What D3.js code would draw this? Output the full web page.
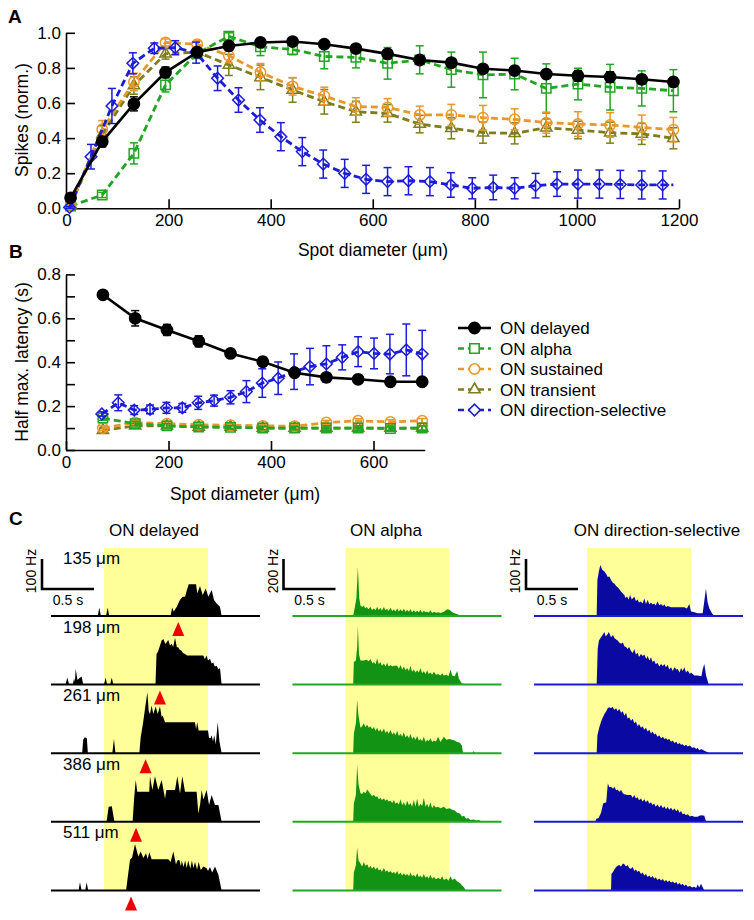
<!DOCTYPE html>
<html><head><meta charset="utf-8">
<script src="https://cdn.jsdelivr.net/npm/d3@7"></script>
<style>body{margin:0;background:#fff}svg{display:block}text{font-family:'Liberation Sans',Arial,Helvetica,sans-serif}</style>
</head><body>
<script>
// ---------- Panel A data ----------
const aXTicks = [0,200,400,600,800,1000,1200];
const aYTicks = [0,0.2,0.4,0.6,0.8,1.0];
const aX = [8,70,132,194,256,318,380,443,505,567,629,692,754,816,878,940,1002,1065,1127,1189];
const aDelayed = [0.06,0.38,0.595,0.775,0.89,0.925,0.945,0.95,0.935,0.91,0.88,0.845,0.83,0.795,0.785,0.765,0.755,0.748,0.735,0.72];
const aDelayedErr = [0.01,0.03,0.04,0.03,0.02,0.012,0.015,0.01,0.015,0.015,0.015,0.02,0.02,0.02,0.02,0.025,0.03,0.03,0.025,0.025];
const aAlpha = [0.013,0.076,0.313,0.703,0.883,0.98,0.92,0.905,0.865,0.86,0.826,0.846,0.79,0.76,0.765,0.683,0.708,0.69,0.683,0.67];
const aAlphaErr = [0.005,0.015,0.06,0.04,0.03,0.02,0.05,0.03,0.07,0.06,0.09,0.08,0.1,0.13,0.09,0.14,0.09,0.13,0.1,0.12];
const aSustained = [0.02,0.45,0.72,0.945,0.935,0.87,0.775,0.695,0.64,0.58,0.575,0.532,0.532,0.516,0.507,0.488,0.48,0.475,0.461,0.448];
const aSustainedErr = [0.005,0.05,0.05,0.02,0.02,0.04,0.05,0.05,0.05,0.05,0.05,0.05,0.06,0.07,0.06,0.06,0.07,0.07,0.07,0.07];
const aTransient = [0.02,0.42,0.7,0.88,0.89,0.817,0.746,0.674,0.607,0.55,0.541,0.48,0.456,0.431,0.427,0.459,0.446,0.431,0.424,0.399];
const aTransientErr = [0.005,0.05,0.05,0.03,0.03,0.06,0.07,0.07,0.07,0.06,0.05,0.05,0.06,0.06,0.06,0.05,0.05,0.06,0.06,0.06];
const aDSX = [6,48,89,130,172,213,254,296,337,379,420,462,503,545,587,629,670,712,753,795,836,878,919,961,1002,1044,1085,1127,1168];
const aDS = [0.005,0.294,0.583,0.826,0.912,0.915,0.887,0.741,0.617,0.503,0.408,0.323,0.252,0.199,0.165,0.152,0.157,0.152,0.133,0.114,0.119,0.114,0.129,0.138,0.138,0.138,0.136,0.133,0.133];
const aDSErr = [0.005,0.07,0.1,0.06,0.03,0.04,0.06,0.07,0.07,0.07,0.08,0.08,0.08,0.08,0.08,0.08,0.08,0.08,0.07,0.06,0.07,0.06,0.07,0.07,0.08,0.08,0.08,0.08,0.08];
const aDSLineEnd = [1189,0.133];

// ---------- Panel B data ----------
const bXTicks = [0,200,400,600];
const bYTicks = [0,0.1,0.2,0.3,0.4,0.5,0.6,0.7,0.8];
const bX = [72,135,197,259,321,384,446,508,570,633,695];
const bDelayed = [0.707,0.6,0.547,0.495,0.44,0.402,0.352,0.331,0.322,0.311,0.311];
const bDelayedErr = [0.012,0.035,0.025,0.025,0.018,0.02,0.015,0.012,0.01,0.01,0.01];
const bAlpha = [0.145,0.12,0.11,0.105,0.103,0.1,0.1,0.1,0.1,0.098,0.1];
const bSustained = [0.1,0.125,0.12,0.115,0.113,0.11,0.108,0.125,0.133,0.128,0.133];
const bTransient = [0.09,0.11,0.11,0.105,0.105,0.1,0.1,0.1,0.1,0.1,0.1];
const bSmallErr = [0.01,0.01,0.01,0.008,0.008,0.008,0.008,0.01,0.01,0.01,0.01];
const bDSX = [70,102,133,164,196,227,258,289,321,352,383,414,445,476,508,539,570,601,632,664,695];
const bDS = [0.164,0.215,0.182,0.185,0.192,0.192,0.215,0.225,0.24,0.266,0.305,0.327,0.357,0.38,0.392,0.422,0.448,0.44,0.437,0.456,0.437];
const bDSErr = [0.01,0.036,0.02,0.02,0.025,0.02,0.03,0.025,0.03,0.05,0.065,0.074,0.081,0.083,0.083,0.057,0.068,0.07,0.09,0.118,0.108];

const seriesNames = ["ON delayed","ON alpha","ON sustained","ON transient","ON direction-selective"];

// ---------- Panel C data (time s, rate Hz) ----------
const rowLabels = ["135 μm","198 μm","261 μm","386 μm","511 μm"];
const delayedLatency = [1.214,1.038,0.9,0.808,0.76];
const delayedTraces = [
 [[0,0],[0.44,0],[0.455,28],[0.47,0],[0.52,0],[0.535,28],[0.55,0],[1.14,0],[1.155,28],[1.17,15],[1.18,20],[1.2,31],[1.23,53],[1.256,64],[1.28,64],[1.3,90],[1.315,106],[1.385,106],[1.397,76],[1.423,100],[1.449,70],[1.478,92],[1.503,64],[1.535,87],[1.558,53],[1.583,42],[1.615,31],[1.631,0],[2,0]],
 [[0,0],[0.13,0],[0.147,24],[0.165,0],[0.2,0],[0.212,20],[0.22,10],[0.228,52],[0.245,15],[0.26,20],[0.285,27],[0.3,0],[0.5,0],[0.516,24],[0.53,0],[0.56,0],[0.574,24],[0.59,0],[0.995,0],[1.005,102],[1.02,110],[1.054,147],[1.071,152],[1.09,135],[1.118,149],[1.135,130],[1.15,136],[1.165,125],[1.183,156],[1.2,125],[1.215,124],[1.23,115],[1.247,113],[1.26,105],[1.279,102],[1.3,97],[1.455,97],[1.47,85],[1.487,97],[1.5,80],[1.519,86],[1.535,70],[1.551,74],[1.565,60],[1.583,63],[1.6,50],[1.615,55],[1.631,0],[2,0]],
 [[0,0],[0.29,0],[0.3,45],[0.315,53],[0.335,50],[0.345,0],[0.58,0],[0.596,48],[0.61,0],[0.84,0],[0.852,51],[0.875,100],[0.895,150],[0.917,203],[0.93,140],[0.942,131],[0.958,159],[0.974,131],[0.997,156],[1.016,131],[1.038,156],[1.055,120],[1.064,126],[1.087,103],[1.375,103],[1.385,80],[1.397,103],[1.41,76],[1.5,76],[1.51,51],[1.525,51],[1.535,60],[1.548,40],[1.56,60],[1.575,30],[1.593,103],[1.61,40],[1.631,0],[2,0]],
 [[0,0],[0.525,0],[0.545,50],[0.575,52],[0.6,0],[0.775,0],[0.79,80],[0.805,139],[0.82,100],[0.935,100],[0.942,152],[0.965,106],[0.99,152],[1.022,106],[1.054,139],[1.087,78],[1.1,106],[1.183,106],[1.205,152],[1.231,94],[1.253,152],[1.279,100],[1.391,100],[1.407,28],[1.425,60],[1.439,106],[1.455,75],[1.462,80],[1.487,106],[1.51,56],[1.535,89],[1.567,56],[1.6,56],[1.631,0],[2,0]],
 [[0,0],[0.255,0],[0.269,27],[0.285,0],[0.32,0],[0.333,27],[0.348,0],[0.712,0],[0.75,102],[0.77,110],[0.798,155],[0.83,113],[0.853,130],[0.878,108],[0.904,124],[0.92,105],[0.936,127],[0.958,104],[1.119,104],[1.14,95],[1.167,130],[1.192,86],[1.205,100],[1.224,102],[1.24,80],[1.247,100],[1.265,78],[1.28,100],[1.295,75],[1.31,100],[1.33,72],[1.345,100],[1.36,75],[1.375,95],[1.395,70],[1.41,95],[1.43,68],[1.455,80],[1.487,74],[1.5,65],[1.519,78],[1.54,60],[1.567,80],[1.6,52],[1.631,0],[2,0]]
];
const alphaTraces = [
 [[0,0],[0.574,0],[0.59,60],[0.605,120],[0.619,329],[0.632,120],[0.644,70],[0.66,60],[0.676,70],[0.69,52],[0.705,60],[0.72,45],[0.74,60],[0.755,40],[0.772,50],[0.79,38],[0.804,62],[0.82,40],[0.837,55],[0.85,35],[0.869,60],[0.885,38],[0.9,48],[0.915,33],[0.933,55],[0.95,33],[0.965,45],[0.98,30],[0.997,50],[1.013,30],[1.029,45],[1.045,30],[1.061,48],[1.077,28],[1.093,40],[1.11,28],[1.125,45],[1.14,25],[1.157,38],[1.173,25],[1.189,35],[1.205,25],[1.221,42],[1.237,22],[1.253,35],[1.27,25],[1.285,30],[1.3,22],[1.317,38],[1.333,20],[1.35,28],[1.37,22],[1.39,25],[1.413,20],[1.446,28],[1.478,45],[1.5,42],[1.526,25],[1.56,15],[1.59,8],[1.606,0],[2,0]],
 [[0,0],[0.574,0],[0.58,150],[0.6,160],[0.612,250],[0.619,393],[0.63,200],[0.644,160],[0.676,160],[0.7,165],[0.724,155],[0.74,170],[0.76,140],[0.772,150],[0.79,135],[0.804,175],[0.82,135],[0.837,150],[0.85,125],[0.869,140],[0.885,120],[0.9,145],[0.915,120],[0.933,130],[0.95,120],[0.965,125],[0.997,125],[1.013,105],[1.029,130],[1.045,100],[1.061,120],[1.077,95],[1.093,110],[1.11,90],[1.125,125],[1.14,85],[1.157,100],[1.173,80],[1.189,95],[1.205,80],[1.221,110],[1.237,75],[1.253,90],[1.27,70],[1.285,95],[1.3,70],[1.317,80],[1.333,65],[1.35,85],[1.37,65],[1.39,70],[1.413,60],[1.43,75],[1.446,60],[1.47,65],[1.49,55],[1.51,100],[1.526,60],[1.55,55],[1.574,90],[1.59,40],[1.606,20],[1.62,8],[1.64,5],[1.66,0],[2,0]],
 [[0,0],[0.574,0],[0.58,130],[0.6,200],[0.612,356],[0.625,250],[0.644,170],[0.66,180],[0.676,200],[0.692,175],[0.71,190],[0.724,170],[0.74,180],[0.755,160],[0.772,175],[0.79,150],[0.804,170],[0.82,145],[0.837,160],[0.85,140],[0.869,165],[0.885,135],[0.9,150],[0.915,130],[0.933,155],[0.95,125],[0.965,140],[0.98,120],[0.997,150],[1.013,115],[1.029,130],[1.045,110],[1.061,140],[1.077,105],[1.093,120],[1.11,100],[1.125,130],[1.14,95],[1.157,110],[1.173,90],[1.189,115],[1.205,85],[1.221,95],[1.237,80],[1.253,110],[1.27,75],[1.285,90],[1.3,80],[1.317,100],[1.333,75],[1.35,85],[1.37,78],[1.39,110],[1.413,75],[1.446,110],[1.47,90],[1.5,95],[1.526,90],[1.55,85],[1.574,75],[1.6,70],[1.62,50],[1.63,0],[1.72,0],[1.733,15],[1.745,0],[2,0]],
 [[0,0],[0.574,0],[0.58,120],[0.6,180],[0.612,378],[0.625,250],[0.644,190],[0.66,185],[0.676,200],[0.692,190],[0.71,215],[0.724,200],[0.74,185],[0.755,170],[0.772,180],[0.79,165],[0.804,170],[0.82,150],[0.837,160],[0.85,145],[0.869,155],[0.885,140],[0.9,150],[0.915,135],[0.933,140],[0.95,125],[0.965,145],[0.98,120],[0.997,130],[1.013,115],[1.029,150],[1.045,110],[1.061,130],[1.077,105],[1.093,140],[1.11,110],[1.125,125],[1.14,100],[1.157,145],[1.173,100],[1.189,155],[1.205,100],[1.221,120],[1.237,105],[1.253,160],[1.27,100],[1.285,120],[1.3,95],[1.317,130],[1.333,90],[1.35,110],[1.37,95],[1.39,100],[1.413,90],[1.446,100],[1.47,85],[1.5,90],[1.526,80],[1.55,75],[1.574,60],[1.6,55],[1.62,35],[1.64,40],[1.66,20],[1.68,25],[1.7,12],[1.73,15],[1.76,8],[1.78,12],[1.8,5],[1.815,0],[2,0]],
 [[0,0],[0.574,0],[0.58,120],[0.6,170],[0.612,289],[0.625,200],[0.644,180],[0.66,160],[0.676,190],[0.692,165],[0.71,175],[0.724,150],[0.74,165],[0.755,145],[0.772,160],[0.79,140],[0.804,155],[0.82,135],[0.837,140],[0.85,125],[0.869,150],[0.885,125],[0.9,135],[0.915,120],[0.933,130],[0.95,115],[0.965,125],[0.98,110],[0.997,130],[1.013,105],[1.029,120],[1.045,100],[1.061,115],[1.077,100],[1.093,110],[1.11,95],[1.125,120],[1.14,95],[1.157,105],[1.173,90],[1.189,115],[1.205,88],[1.221,100],[1.237,85],[1.253,110],[1.27,85],[1.285,95],[1.3,80],[1.317,105],[1.333,78],[1.35,90],[1.37,75],[1.39,85],[1.413,75],[1.43,95],[1.446,70],[1.47,80],[1.49,65],[1.51,95],[1.526,70],[1.55,80],[1.574,60],[1.6,50],[1.62,35],[1.64,20],[1.657,0],[2,0]]
];
const dsTraces = [
 [[0,0],[0.593,0],[0.6,120],[0.615,150],[0.628,170],[0.645,155],[0.667,148],[0.685,140],[0.699,130],[0.715,132],[0.731,120],[0.75,110],[0.763,108],[0.78,100],[0.795,96],[0.81,90],[0.827,82],[0.845,75],[0.859,70],[0.87,60],[0.885,65],[0.9,55],[0.915,70],[0.93,55],[0.955,64],[0.97,50],[0.987,55],[1.0,45],[1.019,48],[1.035,42],[1.051,58],[1.067,40],[1.083,53],[1.1,38],[1.115,45],[1.13,38],[1.147,42],[1.16,35],[1.179,48],[1.195,36],[1.212,40],[1.23,33],[1.244,38],[1.26,30],[1.276,33],[1.308,29],[1.436,29],[1.46,25],[1.484,40],[1.5,15],[1.516,14],[1.564,9],[1.612,9],[1.628,50],[1.644,92],[1.66,45],[1.676,26],[1.7,10],[1.724,0],[2,0]],
 [[0,0],[0.593,0],[0.603,120],[0.615,147],[0.635,158],[0.65,165],[0.667,175],[0.68,160],[0.699,169],[0.71,175],[0.731,158],[0.75,165],[0.763,155],[0.78,150],[0.795,147],[0.81,140],[0.827,136],[0.845,140],[0.859,128],[0.875,125],[0.891,119],[0.905,125],[0.923,112],[0.94,105],[0.955,119],[0.97,100],[0.987,106],[1.0,92],[1.019,102],[1.035,95],[1.051,100],[1.07,85],[1.083,95],[1.1,80],[1.115,91],[1.13,75],[1.147,80],[1.16,69],[1.179,72],[1.195,60],[1.212,69],[1.23,62],[1.244,69],[1.26,58],[1.276,66],[1.29,50],[1.308,58],[1.325,45],[1.34,58],[1.36,50],[1.372,52],[1.39,40],[1.404,55],[1.42,45],[1.436,58],[1.452,40],[1.468,47],[1.49,35],[1.5,40],[1.532,30],[1.564,30],[1.6,28],[1.612,50],[1.628,69],[1.645,30],[1.67,0],[2,0]],
 [[0,0],[0.593,0],[0.6,60],[0.619,87],[0.64,110],[0.667,131],[0.685,140],[0.699,150],[0.715,153],[0.731,150],[0.745,155],[0.763,145],[0.78,150],[0.795,140],[0.81,148],[0.827,135],[0.845,140],[0.859,125],[0.875,135],[0.891,115],[0.905,120],[0.923,108],[0.94,115],[0.955,100],[0.97,106],[0.987,90],[1.0,97],[1.019,85],[1.035,90],[1.051,78],[1.067,85],[1.083,72],[1.1,78],[1.115,66],[1.13,72],[1.147,62],[1.16,66],[1.179,55],[1.195,60],[1.212,50],[1.23,55],[1.244,47],[1.26,50],[1.276,44],[1.29,48],[1.308,38],[1.325,42],[1.34,34],[1.36,38],[1.372,30],[1.39,34],[1.404,28],[1.42,30],[1.436,24],[1.452,28],[1.468,22],[1.49,26],[1.51,18],[1.53,20],[1.55,14],[1.564,18],[1.58,10],[1.6,14],[1.628,8],[1.65,5],[1.676,0],[2,0]],
 [[0,0],[0.58,0],[0.59,10],[0.61,12],[0.635,30],[0.655,61],[0.685,65],[0.7,128],[0.715,115],[0.731,117],[0.75,110],[0.763,117],[0.78,105],[0.795,108],[0.81,100],[0.827,106],[0.845,95],[0.859,92],[0.891,89],[0.923,89],[0.94,80],[0.955,89],[0.97,78],[0.987,82],[1.0,72],[1.019,78],[1.035,68],[1.051,75],[1.067,65],[1.083,72],[1.1,60],[1.115,65],[1.13,56],[1.147,61],[1.16,50],[1.179,58],[1.195,48],[1.212,56],[1.23,45],[1.244,52],[1.26,42],[1.276,50],[1.29,40],[1.308,47],[1.325,38],[1.34,44],[1.36,35],[1.372,42],[1.39,30],[1.404,36],[1.42,25],[1.436,28],[1.452,22],[1.468,25],[1.49,18],[1.51,20],[1.53,17],[1.564,17],[1.58,20],[1.6,22],[1.628,20],[1.645,0],[2,0]],
 [[0,0],[0.731,0],[0.735,55],[0.75,61],[0.763,70],[0.78,78],[0.795,82],[0.81,85],[0.827,80],[0.845,90],[0.859,87],[0.875,80],[0.891,85],[0.905,75],[0.923,72],[0.94,78],[0.955,65],[0.97,70],[0.987,61],[1.0,66],[1.019,55],[1.035,60],[1.051,50],[1.067,55],[1.083,45],[1.1,50],[1.115,42],[1.13,48],[1.147,39],[1.16,44],[1.179,35],[1.195,40],[1.212,33],[1.23,38],[1.244,30],[1.26,35],[1.276,28],[1.29,33],[1.308,26],[1.325,30],[1.34,24],[1.36,28],[1.372,20],[1.39,25],[1.404,18],[1.42,22],[1.436,15],[1.452,20],[1.468,12],[1.49,15],[1.51,10],[1.53,12],[1.55,8],[1.564,20],[1.58,10],[1.596,22],[1.61,12],[1.628,0],[2,0]]
];
const stimulus = [0.5,1.5];
const traceDuration = [0,2];

// ---------- styles ----------
const FONT = "'Liberation Sans', Arial, Helvetica, sans-serif";
const C = {black:"#000000", green:"#22a522", orange:"#e8982a", olive:"#7d7d1e", blue:"#1c1cd6"};

const svg = d3.select("body").append("svg").attr("width",754).attr("height",920)
  .style("font-family",FONT);
svg.append("rect").attr("width",754).attr("height",920).attr("fill","#fff");

function styleAxis(g){
  g.attr("font-size",17).attr("font-family",FONT);
  g.selectAll("path.domain").attr("stroke","#000").attr("stroke-width",1.6);
  g.selectAll(".tick line").attr("stroke","#000").attr("stroke-width",1.6);
  g.selectAll(".tick text").attr("fill","#000");
}

const SYM = {
  circleFilled: {type:d3.symbolCircle,size:100,fill:true,rot:0},
  square: {type:d3.symbolSquare,size:88,fill:false,rot:0},
  circle: {type:d3.symbolCircle,size:85,fill:false,rot:0},
  triangle: {type:d3.symbolTriangle,size:55,fill:false,rot:0},
  diamond: {type:d3.symbolSquare,size:68,fill:false,rot:45}
};

function drawSeries(g, xs, ys, X, Y, E, color, dashed, sym, lineExtra){
  const pts = X.map((x,i)=>[x,Y[i]]);
  const linePts = lineExtra ? pts.concat([lineExtra]) : pts;
  const line = d3.line().x(d=>xs(d[0])).y(d=>ys(d[1]));
  g.append("path").attr("d",line(linePts)).attr("fill","none").attr("stroke",color)
    .attr("stroke-width",dashed?2.8:2.6).attr("stroke-dasharray",dashed?"7,4":null);
  const eb = g.append("g").attr("stroke",color).attr("stroke-width",1.5);
  pts.forEach((p,i)=>{
    const e = E[i]; if(!e) return;
    const cx = xs(p[0]);
    eb.append("line").attr("x1",cx).attr("x2",cx).attr("y1",ys(p[1]-e)).attr("y2",ys(p[1]+e));
    eb.append("line").attr("x1",cx-4).attr("x2",cx+4).attr("y1",ys(p[1]-e)).attr("y2",ys(p[1]-e));
    eb.append("line").attr("x1",cx-4).attr("x2",cx+4).attr("y1",ys(p[1]+e)).attr("y2",ys(p[1]+e));
  });
  const s = SYM[sym];
  g.append("g").selectAll("path").data(pts).join("path")
    .attr("d",d3.symbol(s.type,s.size)())
    .attr("transform",d=>`translate(${xs(d[0])},${ys(d[1])}) rotate(${s.rot})`)
    .attr("fill",s.fill?color:"none").attr("stroke",color).attr("stroke-width",1.5);
}

// ---------- Panel A ----------
const xA = d3.scaleLinear().domain([0,1200]).range([66.5,679]);
const yA = d3.scaleLinear().domain([0,1]).range([208.3,32.8]);
styleAxis(svg.append("g").attr("transform","translate(66,0)")
  .call(d3.axisLeft(yA).tickValues(aYTicks).tickFormat(d3.format(".1f")).tickSizeInner(-9).tickSizeOuter(0).tickPadding(5)));
styleAxis(svg.append("g").attr("transform","translate(0,208.3)")
  .call(d3.axisBottom(xA).tickValues(aXTicks).tickFormat(d3.format("d")).tickSizeInner(-9).tickSizeOuter(0).tickPadding(6)));
svg.append("text").attr("x",373).attr("y",256).attr("text-anchor","middle").attr("font-size",17.5).text("Spot diameter (μm)");
svg.append("text").attr("transform","translate(28,120) rotate(-90)").attr("text-anchor","middle").attr("font-size",17.5).text("Spikes (norm.)");
svg.append("text").attr("x",8).attr("y",23).attr("font-size",19).attr("font-weight","bold").text("A");

const gA = svg.append("g");
drawSeries(gA,xA,yA,aX,aAlpha,aAlphaErr,C.green,true,"square");
drawSeries(gA,xA,yA,aX,aTransient,aTransientErr,C.olive,true,"triangle");
drawSeries(gA,xA,yA,aX,aSustained,aSustainedErr,C.orange,true,"circle");
drawSeries(gA,xA,yA,aDSX,aDS,aDSErr,C.blue,true,"diamond",aDSLineEnd);
drawSeries(gA,xA,yA,aX,aDelayed,aDelayedErr,C.black,false,"circleFilled");

// ---------- Panel B ----------
const xB = d3.scaleLinear().domain([0,700]).range([66,424.75]);
const yB = d3.scaleLinear().domain([0,0.8]).range([450,274.4]);
styleAxis(svg.append("g").attr("transform","translate(66,0)")
  .call(d3.axisLeft(yB).tickValues(bYTicks).tickFormat(d=>Math.round(d*10)%2===0?d.toFixed(1):"").tickSizeInner(-9).tickSizeOuter(0).tickPadding(5)));
styleAxis(svg.append("g").attr("transform","translate(0,450)")
  .call(d3.axisBottom(xB).tickValues(bXTicks).tickFormat(d3.format("d")).tickSizeInner(-9).tickSizeOuter(0).tickPadding(6)));
svg.append("text").attr("x",245).attr("y",500).attr("text-anchor","middle").attr("font-size",17.5).text("Spot diameter (μm)");
svg.append("text").attr("transform","translate(28,362) rotate(-90)").attr("text-anchor","middle").attr("font-size",17.5).text("Half max. latency (s)");
svg.append("text").attr("x",9).attr("y",258).attr("font-size",19).attr("font-weight","bold").text("B");

const gB = svg.append("g");
drawSeries(gB,xB,yB,bX,bTransient,bSmallErr,C.olive,true,"triangle");
drawSeries(gB,xB,yB,bX,bSustained,bSmallErr,C.orange,true,"circle");
drawSeries(gB,xB,yB,bX,bAlpha,bSmallErr,C.green,true,"square");
drawSeries(gB,xB,yB,bDSX,bDS,bDSErr,C.blue,true,"diamond");
drawSeries(gB,xB,yB,bX,bDelayed,bDelayedErr,C.black,false,"circleFilled");

// legend
const legendStyles = [
  [C.black,false,"circleFilled"],[C.green,true,"square"],[C.orange,true,"circle"],[C.olive,true,"triangle"],[C.blue,true,"diamond"]
];
const lg = svg.append("g");
seriesNames.forEach((name,i)=>{
  const y = 328 + i*20.5;
  const [col,dash,sym] = legendStyles[i];
  lg.append("line").attr("x1",458).attr("x2",491).attr("y1",y).attr("y2",y).attr("stroke",col)
    .attr("stroke-width",dash?2.6:2.6).attr("stroke-dasharray",dash?"6,4":null);
  const s = SYM[sym];
  lg.append("path").attr("d",d3.symbol(s.type,s.size)()).attr("transform",`translate(474.5,${y}) rotate(${s.rot})`)
    .attr("fill",s.fill?col:"#fff").attr("stroke",col).attr("stroke-width",1.6);
  lg.append("text").attr("x",500).attr("y",y+6).attr("font-size",17).text(name);
});

// ---------- Panel C ----------
svg.append("text").attr("x",9).attr("y",525).attr("font-size",19).attr("font-weight","bold").text("C");
const rowBase = [616,684.6,753.2,821.8,890.4];
const cols = [
  {title:"ON delayed", titleX:154, x0:52, traces:delayedTraces, hzBar:100, barX:42, fill:"#000", base:"#000", labels:true},
  {title:"ON alpha", titleX:386, x0:293.5, traces:alphaTraces, hzBar:200, barX:283.5, fill:"#139313", base:"#22a822", labels:false},
  {title:"ON direction-selective", titleX:657, x0:535, traces:dsTraces, hzBar:100, barX:526, fill:"#0a0aa2", base:"#1a1ad8", labels:false}
];
cols.forEach(col=>{
  const xs = d3.scaleLinear().domain(traceDuration).range([col.x0, col.x0+208]);
  svg.append("text").attr("x",col.titleX).attr("y",536).attr("text-anchor","middle").attr("font-size",17).text(col.title);
  svg.append("rect").attr("x",xs(stimulus[0])).attr("width",xs(stimulus[1])-xs(stimulus[0]))
    .attr("y",548).attr("height",rowBase[4]-548).attr("fill","#ffff99");
  col.traces.forEach((tr,i)=>{
    const b = rowBase[i];
    const ys = d3.scaleLinear().domain([0,col.hzBar]).range([b,b-30]);
    const area = d3.area().x(d=>xs(d[0])).y0(b).y1(d=>ys(d[1]));
    svg.append("path").attr("d",area(tr)).attr("fill",col.fill);
    svg.append("line").attr("x1",xs(-0.01)).attr("x2",xs(2.0)).attr("y1",b).attr("y2",b)
      .attr("stroke",col.base).attr("stroke-width",2);
  });
  // scale bar
  const sb = 589;
  const ysb = d3.scaleLinear().domain([0,col.hzBar]).range([sb,sb-30]);
  const barLen = xs(0.5)-xs(0);
  svg.append("path").attr("d",`M${col.barX},${ysb(col.hzBar)}V${sb}H${col.barX+barLen}`)
    .attr("fill","none").attr("stroke","#000").attr("stroke-width",2.6);
  svg.append("text").attr("transform",`translate(${col.barX-6},${571}) rotate(-90)`).attr("text-anchor","middle")
    .attr("font-size",14).text(col.hzBar+" Hz");
  svg.append("text").attr("x",col.barX+barLen/2).attr("y",605).attr("text-anchor","middle").attr("font-size",14).text("0.5 s");
  if(col.labels){
    rowLabels.forEach((lab,i)=>{
      svg.append("text").attr("x",63).attr("y",rowBase[i]-52).attr("font-size",17).text(lab);
    });
    delayedLatency.forEach((t,i)=>{
      const cx = xs(t), b = rowBase[i];
      svg.append("path").attr("d",`M${cx},${b+6}L${cx+6},${b+20}L${cx-6},${b+20}Z`).attr("fill","#ee0000");
    });
  }
});
</script></body></html>
